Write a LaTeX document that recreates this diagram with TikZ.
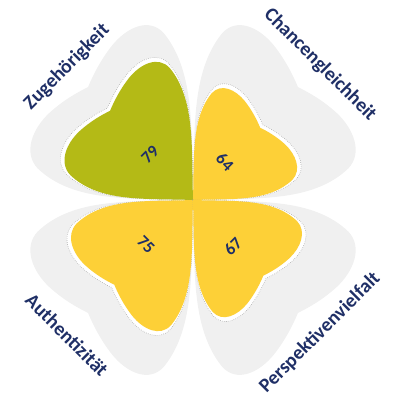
\documentclass[tikz,border=0pt]{standalone}
\usepackage{fontspec}
\setmainfont{Carlito}
\definecolor{petalgrey}{HTML}{F0F0F0}
\definecolor{cloverolive}{HTML}{B4BA16}
\definecolor{cloveryellow}{HTML}{FDD037}
\definecolor{navy}{HTML}{1F2F66}
% one heart shaped petal, tip at the origin, notch at (1,0)
\newcommand{\heart}{(0,0) .. controls (0.3,0.28) and (0.55,0.58) .. (0.88,0.6) .. controls (1.02,0.6) and (1.08,0.45) .. (1.07,0.3) .. controls (1.06,0.18) and (1.03,0.08) .. (1,0) .. controls (1.03,-0.08) and (1.06,-0.18) .. (1.07,-0.3) .. controls (1.08,-0.45) and (1.02,-0.6) .. (0.88,-0.6) .. controls (0.55,-0.58) and (0.3,-0.28) .. (0,0) -- cycle}
\tikzset{
  bg/.style={fill=petalgrey},
  rim/.style={fill=white, draw=gray!75, densely dotted, line width=0.4pt},
  dimlabel/.style={font=\fontsize{14}{16}\selectfont\bfseries, text=navy},
  score/.style={font=\fontsize{12}{14}\selectfont\bfseries, text=navy},
}
\begin{document}
\begin{tikzpicture}[x=0.025cm, y=0.025cm]
\useasboundingbox (-193,-198) rectangle (200,200);
\foreach \ang in {45,135,225,315}{
  \fill[bg, yscale=1.075, rotate=\ang, scale=148.5] \heart;
}
\foreach \ang/\val/\col in {135/79/cloverolive, 45/64/cloveryellow, 225/75/cloveryellow, 315/67/cloveryellow}{
  \begin{scope}[yscale=1.075, rotate=\ang]
    \path[rim, scale=1.485*(\val+2.5)] \heart;
    \fill[\col, scale=1.485*\val] \heart;
  \end{scope}
}
\node[dimlabel, rotate=45] (zug) at (-126,133) {Zugehörigkeit};
\node[dimlabel, rotate=-45] (chance) at (127,135) {Chancengleichheit};
\node[dimlabel, rotate=-45] (auth) at (-126,-135) {Authentizität};
\node[dimlabel, rotate=45] (persp) at (127,-133) {Perspektivenvielfalt};
\node[score, rotate=45] (vzug) at (-43,45) {79};
\node[score, rotate=-45] (vchance) at (32,38) {64};
\node[score, rotate=-45] (vauth) at (-47,-45) {75};
\node[score, rotate=45] (vpersp) at (40,-46) {67};
\end{tikzpicture}
\end{document}
